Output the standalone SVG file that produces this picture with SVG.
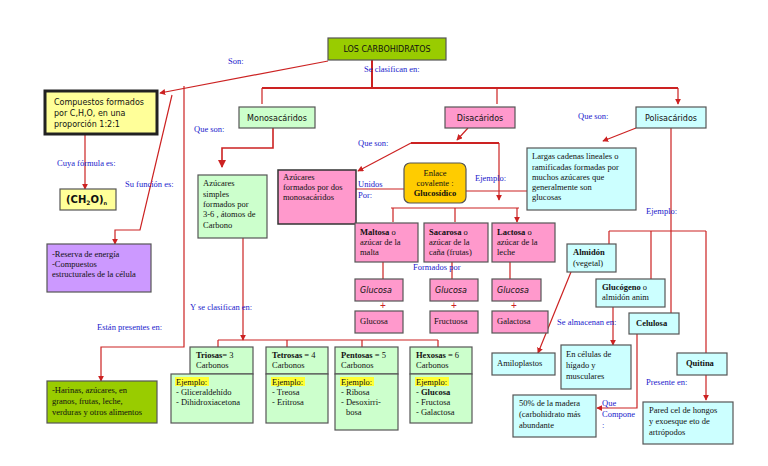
<svg xmlns="http://www.w3.org/2000/svg" width="768" height="466" viewBox="0 0 768 466">
<defs>
<marker id="a" viewBox="0 0 8 8" refX="7" refY="4" markerWidth="5" markerHeight="5" orient="auto"><path d="M0,0L8,4L0,8z" fill="#cc2222"/></marker>
<style>
.b{stroke:#555;stroke-width:1.2}
.g{fill:#99cc00}.y{fill:#ffff99}.p{fill:#cc99ff}.lg{fill:#ccffcc}.pk{fill:#ff99cc}.c{fill:#ccffff}
text{font-family:"Liberation Serif",serif;font-size:8.5px;fill:#111}
.s{font-family:"DejaVu Sans",sans-serif;font-size:8px}
.l{fill:#1a1acc;font-size:8.5px}
.bo{font-weight:bold}
.ln{stroke:#cc2222;stroke-width:1.2;fill:none}
.hl{fill:#ffff33}
</style>
</defs>
<rect width="768" height="466" fill="#fff"/>
<g id="connectors" class="ln">
<path d="M372,60V88M262,88H678" stroke-width="2"/>
<path d="M262,88V104M497,88V104M678,88V104" marker-end="url(#a)"/>
<path d="M328,61L160,93" marker-end="url(#a)"/>
<path d="M172,95L140,230H115V244" marker-end="url(#a)"/>
<path d="M184,86V347H101V381" marker-end="url(#a)"/>
<path d="M85,134V189" marker-end="url(#a)"/>
<path d="M273,128V148H222V167" marker-end="url(#a)" stroke-width="1.6"/>
<path d="M243,238V340" marker-end="url(#a)"/>
<path d="M218,340H438M218,340V347M287,340V347M362,340V347M438,340V347"/>
<path d="M468,128L457,140" marker-end="url(#a)"/>
<path d="M411,143H499" stroke-width="2"/>
<path d="M411,143L358,171" marker-end="url(#a)"/>
<path d="M499,143V200" marker-end="url(#a)"/>
<path d="M356,189H404M466,191H527"/>
<path d="M391,208H519"/>
<path d="M393,208V222M455,208V222M517,208V222" marker-end="url(#a)"/>
<path d="M383,262V279M452,262V279M510,262V279"/>
<path d="M636,128L603,141" marker-end="url(#a)"/>
<path d="M671,128V313M609,231H706M609,231V244M651,231V279M706,231V353"/>
<path d="M706,375V400" marker-end="url(#a)"/>
<path d="M571,272L538,353" marker-end="url(#a)"/>
<path d="M613,307V345" marker-end="url(#a)"/>
<path d="M637,334V408H597" marker-end="url(#a)"/>
</g>
<g fill="#cc2222" font-family="Liberation Sans,sans-serif" font-size="10"><text x="380" y="309" fill="#cc2222" style="font-family:'Liberation Sans',sans-serif;font-size:10px;fill:#cc2222">+</text><text x="451" y="309" style="font-family:'Liberation Sans',sans-serif;font-size:10px;fill:#cc2222">+</text><text x="511" y="309" style="font-family:'Liberation Sans',sans-serif;font-size:10px;fill:#cc2222">+</text></g>
<g id="labels">
<text class="l" x="228" y="64">Son:</text>
<text class="l" x="364" y="72">Se clasifican en:</text>
<text class="l" x="194" y="132">Que son:</text>
<text class="l" x="358" y="146">Que son:</text>
<text class="l" x="578" y="119">Que son:</text>
<text class="l" x="57" y="166">Cuya fórmula es:</text>
<text class="l" x="125" y="187">Su función es:</text>
<text class="l" x="358" y="187">Unidos</text>
<text class="l" x="358" y="198">Por:</text>
<text class="l" x="475" y="181">Ejemplo:</text>
<text class="l" x="646" y="214">Ejemplo:</text>
<text class="l" x="413" y="270">Formados por</text>
<text class="l" x="190" y="310">Y se clasifican en:</text>
<text class="l" x="97" y="330">Están presentes en:</text>
<text class="l" x="557" y="325">Se almacenan en:</text>
<text class="l" x="646" y="385">Presente en:</text>
<text class="l" x="602" y="406">Que</text>
<text class="l" x="602" y="417">Compone</text>
<text class="l" x="602" y="428">:</text>
</g>
<g id="title"><rect class="g b" x="328" y="38" width="118" height="22"/><text class="s" x="387" y="52" text-anchor="middle">LOS CARBOHIDRATOS</text></g>
<g id="compuestos"><rect class="y" x="45" y="91" width="112" height="43" stroke="#222" stroke-width="3"/><text class="s" x="54" y="105">Compuestos formados</text><text class="s" x="54" y="116">por C,H,O, en una</text><text class="s" x="54" y="127">proporción 1:2:1</text></g>
<g id="formula"><rect class="y b" x="60" y="189" width="56" height="21"/><text class="s bo" x="66" y="203" style="font-size:10px">(CH<tspan font-size="6" dy="2">2</tspan><tspan dy="-2">O)</tspan><tspan font-size="5" dy="2">n</tspan></text></g>
<g id="reserva"><rect class="p b" x="47" y="244" width="104" height="48"/><text x="52" y="257">-Reserva  de energía</text><text x="52" y="267">-Compuestos</text><text x="52" y="277">estructurales de la célula</text></g>
<g id="harinas"><rect class="g b" x="47" y="381" width="110" height="42"/><text x="52" y="393">-Harinas, azúcares, en</text><text x="52" y="404">granos, frutas, leche,</text><text x="52" y="415">verduras y otros alimentos</text></g>
<g id="mono"><rect class="lg b" x="239" y="107" width="76" height="21"/><text class="s" x="277" y="121" text-anchor="middle">Monosacáridos</text></g>
<g id="simples"><rect class="lg b" x="198" y="175" width="69" height="63"/><text x="203" y="186">Azúcares</text><text x="203" y="197">simples</text><text x="203" y="207">formados por</text><text x="203" y="217">3-6 , átomos de</text><text x="203" y="228">Carbono</text></g>
<g id="di"><rect class="pk b" x="445" y="107" width="70" height="21"/><text class="s" x="480" y="121" text-anchor="middle">Disacáridos</text></g>
<g id="dos"><rect class="pk" x="278" y="170" width="78" height="54" stroke="#333" stroke-width="1.5"/><text x="283" y="180">Azúcares</text><text x="283" y="190">formados por dos</text><text x="283" y="200">monosacáridos</text></g>
<g id="enlace"><rect x="404" y="163" width="62" height="40" rx="6" fill="#ffcc00" stroke="#555" stroke-width="1.2"/><text x="435" y="176" text-anchor="middle">Enlace</text><text x="435" y="186" text-anchor="middle">covalente :</text><text class="bo" x="435" y="196" text-anchor="middle">Glucosídico</text></g>
<g id="maltosa"><rect class="pk b" x="355" y="223" width="63" height="39"/><text x="360" y="235"><tspan class="bo">Maltosa</tspan> o</text><text x="360" y="245">azúcar  de la</text><text x="360" y="255">malta</text></g>
<g id="sacarosa"><rect class="pk b" x="424" y="223" width="64" height="39"/><text x="429" y="235"><tspan class="bo">Sacarosa</tspan> o</text><text x="429" y="245">azúcar de la</text><text x="429" y="255">caña (frutas)</text></g>
<g id="lactosa"><rect class="pk b" x="492" y="223" width="63" height="39"/><text x="497" y="235"><tspan class="bo">Lactosa</tspan> o</text><text x="497" y="245">azúcar de la</text><text x="497" y="255">leche</text></g>
<g id="g1"><rect class="pk b" x="355" y="279" width="48" height="22"/><text class="s" x="360" y="293" font-style="italic">Glucosa</text></g>
<g id="g2"><rect class="pk b" x="430" y="279" width="48" height="22"/><text class="s" x="435" y="293" font-style="italic">Glucosa</text></g>
<g id="g3"><rect class="pk b" x="492" y="279" width="49" height="22"/><text class="s" x="497" y="293" font-style="italic">Glucosa</text></g>
<g id="g4"><rect class="pk b" x="355" y="311" width="48" height="22"/><text x="360" y="324">Glucosa</text></g>
<g id="fr"><rect class="pk b" x="430" y="311" width="48" height="22"/><text x="434" y="324">Fructuosa</text></g>
<g id="ga"><rect class="pk b" x="492" y="311" width="56" height="22"/><text x="497" y="324">Galactosa</text></g>
<g id="poli"><rect class="c b" x="636" y="107" width="70" height="21"/><text class="s" x="671" y="121" text-anchor="middle">Polisacáridos</text></g>
<g id="largas"><rect class="c b" x="527" y="148" width="109" height="62"/><text x="532" y="159">Largas cadenas lineales o</text><text x="532" y="170">ramificadas formadas por</text><text x="532" y="180">muchos azúcares  que</text><text x="532" y="190">generalmente son</text><text x="532" y="200">glucosas</text></g>
<g id="almidon"><rect class="c b" x="567" y="244" width="49" height="28"/><text class="bo" x="573" y="255">Almidón</text><text x="573" y="266">(vegetal)</text></g>
<g id="glucogeno"><rect class="c b" x="596" y="279" width="69" height="28"/><text x="602" y="290"><tspan class="bo">Glucógeno</tspan> o</text><text x="602" y="300">almidón anim</text></g>
<g id="celulosa"><rect class="c b" x="629" y="313" width="50" height="21"/><text class="bo" x="636" y="326">Celulosa</text></g>
<g id="amilo"><rect class="c b" x="492" y="353" width="63" height="22"/><text x="497" y="366">Amiloplastos</text></g>
<g id="celulas"><rect class="c b" x="561" y="345" width="70" height="44"/><text x="566" y="357">En  células de</text><text x="566" y="368">hígado y</text><text x="566" y="379">musculares</text></g>
<g id="quitina"><rect class="c b" x="677" y="353" width="50" height="22"/><text class="bo" x="686" y="366">Quitina</text></g>
<g id="madera"><rect class="c b" x="513" y="395" width="83" height="42"/><text x="519" y="406">50% de la madera</text><text x="519" y="417">(carbohidrato más</text><text x="519" y="428">abundante</text></g>
<g id="pared"><rect class="c b" x="643" y="402" width="90" height="42"/><text x="649" y="413">Pared cel de hongos</text><text x="649" y="424">y exoesque eto de</text><text x="649" y="435">artrópodos</text></g>
<g id="triosas"><rect class="lg b" x="190" y="347" width="63" height="27"/><text x="196" y="358"><tspan class="bo">Triosas</tspan>= 3</text><text x="196" y="368">Carbonos</text><rect class="lg b" x="171" y="374" width="82" height="49"/><rect class="hl" x="175" y="377" width="34" height="9"/><text x="176" y="385">Ejemplo:</text><text x="176" y="395">- Gliceraldehído</text><text x="176" y="405">- Dihidroxiacetona</text></g>
<g id="tetrosas"><rect class="lg b" x="266" y="347" width="62" height="27"/><text x="272" y="358"><tspan class="bo">Tetrosas</tspan> = 4</text><text x="272" y="368">Carbonos</text><rect class="lg b" x="266" y="374" width="62" height="49"/><rect class="hl" x="271" y="377" width="34" height="9"/><text x="272" y="385">Ejemplo:</text><text x="272" y="395">- Treosa</text><text x="272" y="405">- Eritrosa</text></g>
<g id="pentosas"><rect class="lg b" x="335" y="347" width="63" height="27"/><text x="341" y="358"><tspan class="bo">Pentosas</tspan> = 5</text><text x="341" y="368">Carbonos</text><rect class="lg b" x="335" y="374" width="63" height="56"/><rect class="hl" x="340" y="377" width="34" height="9"/><text x="341" y="385">Ejemplo:</text><text x="341" y="395">- Ribosa</text><text x="341" y="405">- Desoxirri-</text><text x="346" y="415">bosa</text></g>
<g id="hexosas"><rect class="lg b" x="410" y="347" width="62" height="27"/><text x="416" y="358"><tspan class="bo">Hexosas</tspan> = 6</text><text x="416" y="368">Carbonos</text><rect class="lg b" x="410" y="374" width="62" height="49"/><rect class="hl" x="415" y="377" width="34" height="9"/><text x="416" y="385">Ejemplo:</text><text x="416" y="395">- <tspan class="bo">Glucosa</tspan></text><text x="416" y="405">- Fructosa</text><text x="416" y="415">- Galactosa</text></g>
</svg>
